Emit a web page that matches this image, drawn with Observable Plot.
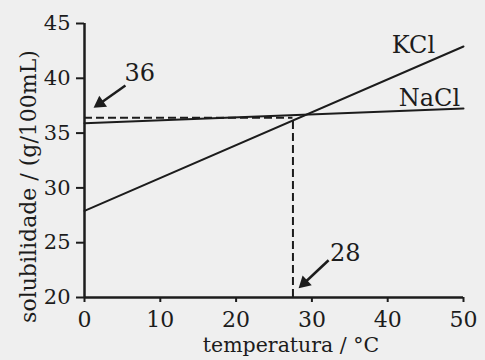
<!DOCTYPE html>
<html>
<head>
<meta charset="utf-8">
<script src="https://cdn.jsdelivr.net/npm/d3@7"></script>
<script src="https://cdn.jsdelivr.net/npm/@observablehq/plot@0.6"></script>
<style>
  html, body { margin: 0; padding: 0; background: #efefef; }
  svg { display: block; }
</style>
</head>
<body>
<div id="chart"></div>
<script>
// ---- data ----
const temps = [0, 50];                 // temperatura / °C (line endpoints)
const kclValues = [27.9, 42.9];        // KCl solubility at 0 and 50 °C
const naclValues = [35.9, 37.25];      // NaCl solubility at 0 and 50 °C
const seriesNames = ["KCl", "NaCl"];
const xTicks = [0, 10, 20, 30, 40, 50];
const yTicks = [20, 25, 30, 35, 40, 45];
const markX = 27.5;                    // dashed vertical (labelled 28)
const markY = 36.4;                    // dashed horizontal (labelled 36)
const annoLabels = ["36", "28"];
const annoLabelX = [7.3, 34.4];
const annoLabelY = [40.5, 24.0];
const arrowTailX = [5.4, 32.2];
const arrowTailY = [39.35, 23.4];
const arrowTipX = [1.2, 28.2];
const arrowTipY = [37.3, 20.8];
const arrowAngle = [235, 227];
const seriesLabelX = [43.4, 45.5];
const seriesLabelY = [43.0, 38.15];
const xLabel = "temperatura / °C";
const yLabel = "solubilidade / (g/100mL)";

// ---- build tables ----
const lines = [];
temps.forEach((t, i) => {
  lines.push({series: "KCl", t, s: kclValues[i]});
  lines.push({series: "NaCl", t, s: naclValues[i]});
});
const annos = annoLabels.map((label, i) => ({
  label, lx: annoLabelX[i], ly: annoLabelY[i],
  x1: arrowTailX[i], y1: arrowTailY[i], x2: arrowTipX[i], y2: arrowTipY[i],
  hx: arrowTailX[i] + 0.8 * (arrowTipX[i] - arrowTailX[i]),
  hy: arrowTailY[i] + 0.8 * (arrowTipY[i] - arrowTailY[i]),
  angle: arrowAngle[i]
}));
const seriesLabels = seriesNames.map((name, i) => ({name, x: seriesLabelX[i], y: seriesLabelY[i]}));

const ink = "#1c1c1c";

const chart = Plot.plot({
  width: 485,
  height: 360,
  marginLeft: 84,
  marginRight: 22,
  marginTop: 23,
  marginBottom: 63,
  style: {background: "#efefef", fontFamily: "DejaVu Serif", fontSize: "21px", color: ink},
  x: {domain: [0, 50]},
  y: {domain: [20, 45]},
  marks: [
    Plot.axisX({ticks: xTicks, tickSize: 5, tickPadding: 9, label: null, fontSize: 22, stroke: ink, strokeWidth: 2}),
    Plot.axisY({ticks: yTicks, tickSize: 8, tickPadding: 6, label: null, fontSize: 21, stroke: ink, strokeWidth: 2}),
    Plot.ruleX([0], {stroke: ink, strokeWidth: 2.5}),
    Plot.ruleY([20], {stroke: ink, strokeWidth: 2.5}),
    // dashed guides
    Plot.ruleY([markY], {x1: 0, x2: markX, stroke: ink, strokeWidth: 2, strokeDasharray: "8,4"}),
    Plot.ruleX([markX], {y1: 20, y2: markY, stroke: ink, strokeWidth: 2, strokeDasharray: "8,4"}),
    // solubility lines
    Plot.line(lines, {x: "t", y: "s", z: "series", stroke: ink, strokeWidth: 2}),
    Plot.text(seriesLabels, {x: "x", y: "y", text: "name", fontSize: 24, fill: ink}),
    // annotations
    Plot.link(annos, {x1: "x1", y1: "y1", x2: "hx", y2: "hy", stroke: ink, strokeWidth: 2.5}),
    Plot.dot(annos, {x: "hx", y: "hy", symbol: "triangle", r: 5, rotate: "angle", fill: ink, stroke: "none"}),
    Plot.text(annos, {x: "lx", y: "ly", text: "label", fontSize: 24, fill: ink}),
    // axis titles
    Plot.text([yLabel], {frameAnchor: "left", textAnchor: "middle", rotate: -90, dx: -56, dy: 26, fontSize: 22, fill: ink}),
    Plot.text([xLabel], {frameAnchor: "bottom", textAnchor: "middle", dx: 17, dy: 54, fontSize: 20.5, fill: ink})
  ]
});
document.getElementById("chart").appendChild(chart);
</script>
</body>
</html>
